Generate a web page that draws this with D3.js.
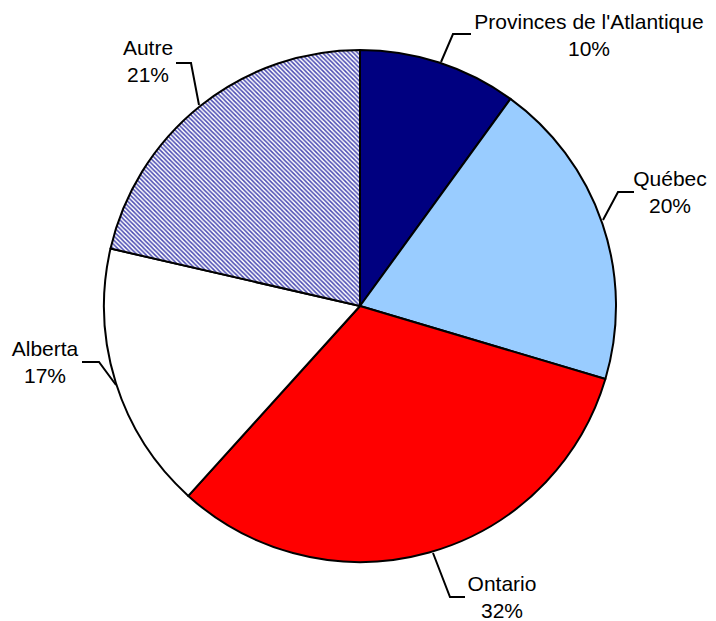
<!DOCTYPE html>
<html><head><meta charset="utf-8">
<script src="https://cdn.jsdelivr.net/npm/d3@7"></script>
<style>body{margin:0;background:#fff}</style>
</head><body>
<svg id="c" width="716" height="621"></svg>
<script>
const categories = ["Provinces de l'Atlantique", "Québec", "Ontario", "Alberta", "Autre"];
const values = [10.0, 19.6, 32.1, 16.9, 21.4];
const labels = ["10%", "20%", "32%", "17%", "21%"];
const colors = ["#000080", "#99CCFF", "#FF0000", "#FFFFFF", "url(#hatch)"];

const svg = d3.select("#c");
const cx = 360, cy = 306, r = 256;

const defs = svg.append("defs");
const P = 4.4;
const pat = defs.append("pattern").attr("id","hatch").attr("patternUnits","userSpaceOnUse")
  .attr("width",P).attr("height",P);
pat.append("rect").attr("width",P).attr("height",P).attr("fill","#fff");
pat.append("path").attr("d",`M-1,-1 L${P+1},${P+1} M-1,${P-1} L1,${P+1} M${P-1},-1 L${P+1},1`)
  .attr("stroke","#4a4ab2").attr("stroke-width",1.5);

const pie = d3.pie().sort(null).value(d=>d)(values);
const arc = d3.arc().innerRadius(0).outerRadius(r);
const g = svg.append("g").attr("transform",`translate(${cx},${cy})`);
g.selectAll("path").data(pie).join("path")
  .attr("d",arc).attr("fill",(d,i)=>colors[i])
  .attr("stroke","#000").attr("stroke-width",2).attr("stroke-linejoin","round");

// label layout (text centers and leader-line elbows)
const lab = [
  {x:589, y:29, pts:[[441,62],[453,34],[471,34]]},
  {x:670, y:186, pts:[[603,220],[618,192],[634,192]]},
  {x:502, y:591, pts:[[433,553],[450,597],[465,597]]},
  {x:45, y:356, pts:[[116,385],[99,362],[82,362]]},
  {x:148, y:55, pts:[[199,105],[191,63],[176,63]]}
];
const line = d3.line();
svg.selectAll("path.lead").data(lab).join("path").attr("class","lead")
  .attr("d",d=>line(d.pts)).attr("fill","none").attr("stroke","#000").attr("stroke-width",2);
const t = svg.selectAll("text.lab").data(lab).join("text").attr("class","lab")
  .attr("x",d=>d.x).attr("y",d=>d.y).attr("text-anchor","middle")
  .attr("font-family","Liberation Sans, Arial, sans-serif").attr("font-size",21).attr("fill","#000");
t.append("tspan").attr("x",d=>d.x).text((d,i)=>categories[i]);
t.append("tspan").attr("x",d=>d.x).attr("dy",26.5).text((d,i)=>labels[i]);
</script>
</body></html>
